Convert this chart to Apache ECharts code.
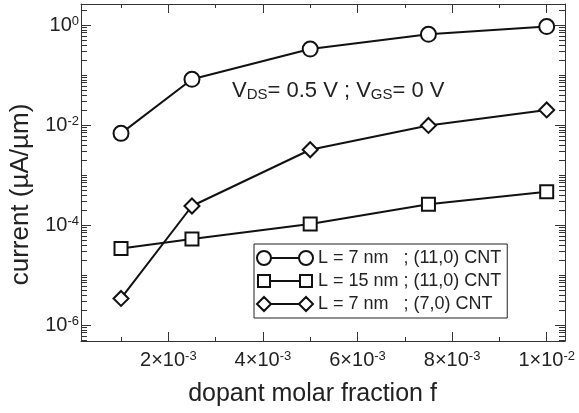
<!DOCTYPE html>
<html><head><meta charset="utf-8">
<script src="https://cdn.jsdelivr.net/npm/echarts@6/dist/echarts.min.js"></script>
<style>html,body{margin:0;padding:0;background:#fff}#c{width:579px;height:413px}</style>
</head><body><div id="c"></div>
<script>
// ---- data ----
const fractions = [0.001, 0.0025, 0.005, 0.0075, 0.01];
const seriesNames = ['L = 7 nm   ; (11,0) CNT', 'L = 15 nm ; (11,0) CNT', 'L = 7 nm   ; (7,0) CNT'];
const currentL7_11 = [6.8e-3, 0.082, 0.33, 0.65, 0.93];
const currentL15_11 = [3.4e-5, 5.25e-5, 1.05e-4, 2.6e-4, 4.6e-4];
const currentL7_7 = [3.4e-6, 2.4e-4, 3.2e-3, 9.8e-3, 0.02];
const xMajorTicks = [0.002, 0.004, 0.006, 0.008, 0.01];
const xMinorTicks = [0.001, 0.003, 0.005, 0.007, 0.009];
const yMajorTicks = [1e-6, 1e-4, 1e-2, 1];
const yMinorTicks = [];
for (let e = -7; e <= 0; e++) {
  for (let k = 1; k <= 9; k++) {
    const v = k * Math.pow(10, e);
    if (!(k === 1 && e % 2 === 0)) yMinorTicks.push(v);
  }
}
const xRange = [1.54e-4, 1.0387e-2];
const yRange = [Math.pow(10, -6.32), Math.pow(10, 0.42)];

// ---- style ----
const FONT = 'Liberation Sans, Arial, Helvetica, sans-serif';
const INK = '#222';
const frame = {color: '#333', width: 1};
const richLbl = {
  b: {fontSize: 20, fontFamily: FONT, color: INK, lineHeight: 20, padding: [6, 0, 0, 0], verticalAlign: 'bottom'},
  s: {fontSize: 13, fontFamily: FONT, color: INK, lineHeight: 13, verticalAlign: 'top'}
};
function xFmt(v) {
  const e = Math.floor(Math.log10(v) + 1e-9);
  const m = Math.round(v / Math.pow(10, e));
  return '{b|' + m + '×10}{s|' + e + '}';
}
function yFmt(v) {
  const e = Math.round(Math.log10(v));
  return '{b|10}{s|' + e + '}';
}
function xAx(pos, major, withLine) {
  return {
    type: 'value', position: pos, min: xRange[0], max: xRange[1],
    axisLine: {show: withLine, onZero: false, lineStyle: frame},
    axisTick: {show: true, inside: true, length: major ? 9 : 4, customValues: major ? xMajorTicks : xMinorTicks, lineStyle: frame},
    axisLabel: {show: false},
    splitLine: {show: false}
  };
}
function yAx(pos, major, withLine) {
  return {
    type: 'log', position: pos, min: yRange[0], max: yRange[1],
    axisLine: {show: withLine, onZero: false, lineStyle: frame},
    axisTick: {show: true, inside: true, length: major ? 10 : 6, customValues: major ? yMajorTicks : yMinorTicks, lineStyle: frame},
    axisLabel: {show: false},
    splitLine: {show: false}
  };
}
const xBottom = xAx('bottom', true, true);
xBottom.axisLabel = {show: true, customValues: xMajorTicks, formatter: xFmt, rich: richLbl, margin: 9};
xBottom.name = 'dopant molar fraction f';
xBottom.nameLocation = 'middle';
xBottom.nameGap = 41;
xBottom.nameTextStyle = {fontSize: 25, fontFamily: FONT, color: INK, padding: [0, 21, 0, 0]};
const yLeft = yAx('left', true, true);
yLeft.axisLabel = {show: true, customValues: yMajorTicks, formatter: yFmt, rich: richLbl, margin: 2};
yLeft.name = 'current (µA/µm)';
yLeft.nameLocation = 'middle';
yLeft.nameGap = 47;
yLeft.nameTextStyle = {fontSize: 26, fontFamily: FONT, color: INK, padding: [0, 44, 0, 0]};

const icons = {
  circle: 'path://M0,7A7,7 0 1,1 14,7A7,7 0 1,1 0,7Z M14,7L42,7 M42,7A7,7 0 1,1 56,7A7,7 0 1,1 42,7Z',
  rect: 'path://M0,0 M56,14 M1,1L13,1L13,13L1,13Z M13,7L43,7 M43,1L55,1L55,13L43,13Z',
  diamond: 'path://M0,7L7,0L14,7L7,14Z M14,7L42,7 M42,7L49,0L56,7L49,14Z'
};
function mkSeries(name, data, symbol, size) {
  return {
    name: name, type: 'line', xAxisIndex: 0, yAxisIndex: 0,
    data: fractions.map((f, i) => [f, data[i]]),
    symbol: symbol, symbolSize: size,
    lineStyle: {color: '#111', width: 2},
    itemStyle: {color: '#fff', borderColor: '#111', borderWidth: 2},
    emphasis: {disabled: true}, animation: false
  };
}

const chart = echarts.init(document.getElementById('c'), null, {renderer: 'canvas'});
chart.setOption({
  animation: false,
  backgroundColor: '#fff',
  grid: {left: 81, right: 14, top: 4, bottom: 72, outerBoundsMode: 'none', containLabel: false},
  xAxis: [xBottom, xAx('bottom', false, false), xAx('top', true, true), xAx('top', false, false)],
  yAxis: [yLeft, yAx('left', false, false), yAx('right', true, true), yAx('right', false, false)],
  legend: {
    orient: 'vertical', left: 254, top: 244,
    padding: [5, 6, 5, 2], itemGap: 5, itemWidth: 56, itemHeight: 14,
    borderColor: '#222', borderWidth: 1, backgroundColor: '#fff',
    itemStyle: {color: '#fff', borderColor: '#111', borderWidth: 2},
    textStyle: {fontSize: 18, fontFamily: FONT, color: INK},
    selectedMode: false,
    data: [
      {name: seriesNames[0], icon: icons.circle},
      {name: seriesNames[1], icon: icons.rect},
      {name: seriesNames[2], icon: icons.diamond}
    ]
  },
  graphic: [{
    type: 'text', left: 232, top: 80,
    style: {
      text: '{n|V}{d|DS}{n|= 0.5 V ; V}{d|GS}{n|= 0 V}',
      rich: {
        n: {fontSize: 22, fontFamily: FONT, fill: INK, lineHeight: 22, padding: [0, 0, 11, 0], verticalAlign: 'top'},
        d: {fontSize: 15, fontFamily: FONT, fill: INK, lineHeight: 15, verticalAlign: 'bottom'}
      }
    }
  }],
  series: [
    mkSeries(seriesNames[0], currentL7_11, 'circle', 15),
    mkSeries(seriesNames[1], currentL15_11, 'rect', 13),
    mkSeries(seriesNames[2], currentL7_7, 'diamond', 15)
  ]
});
</script></body></html>
